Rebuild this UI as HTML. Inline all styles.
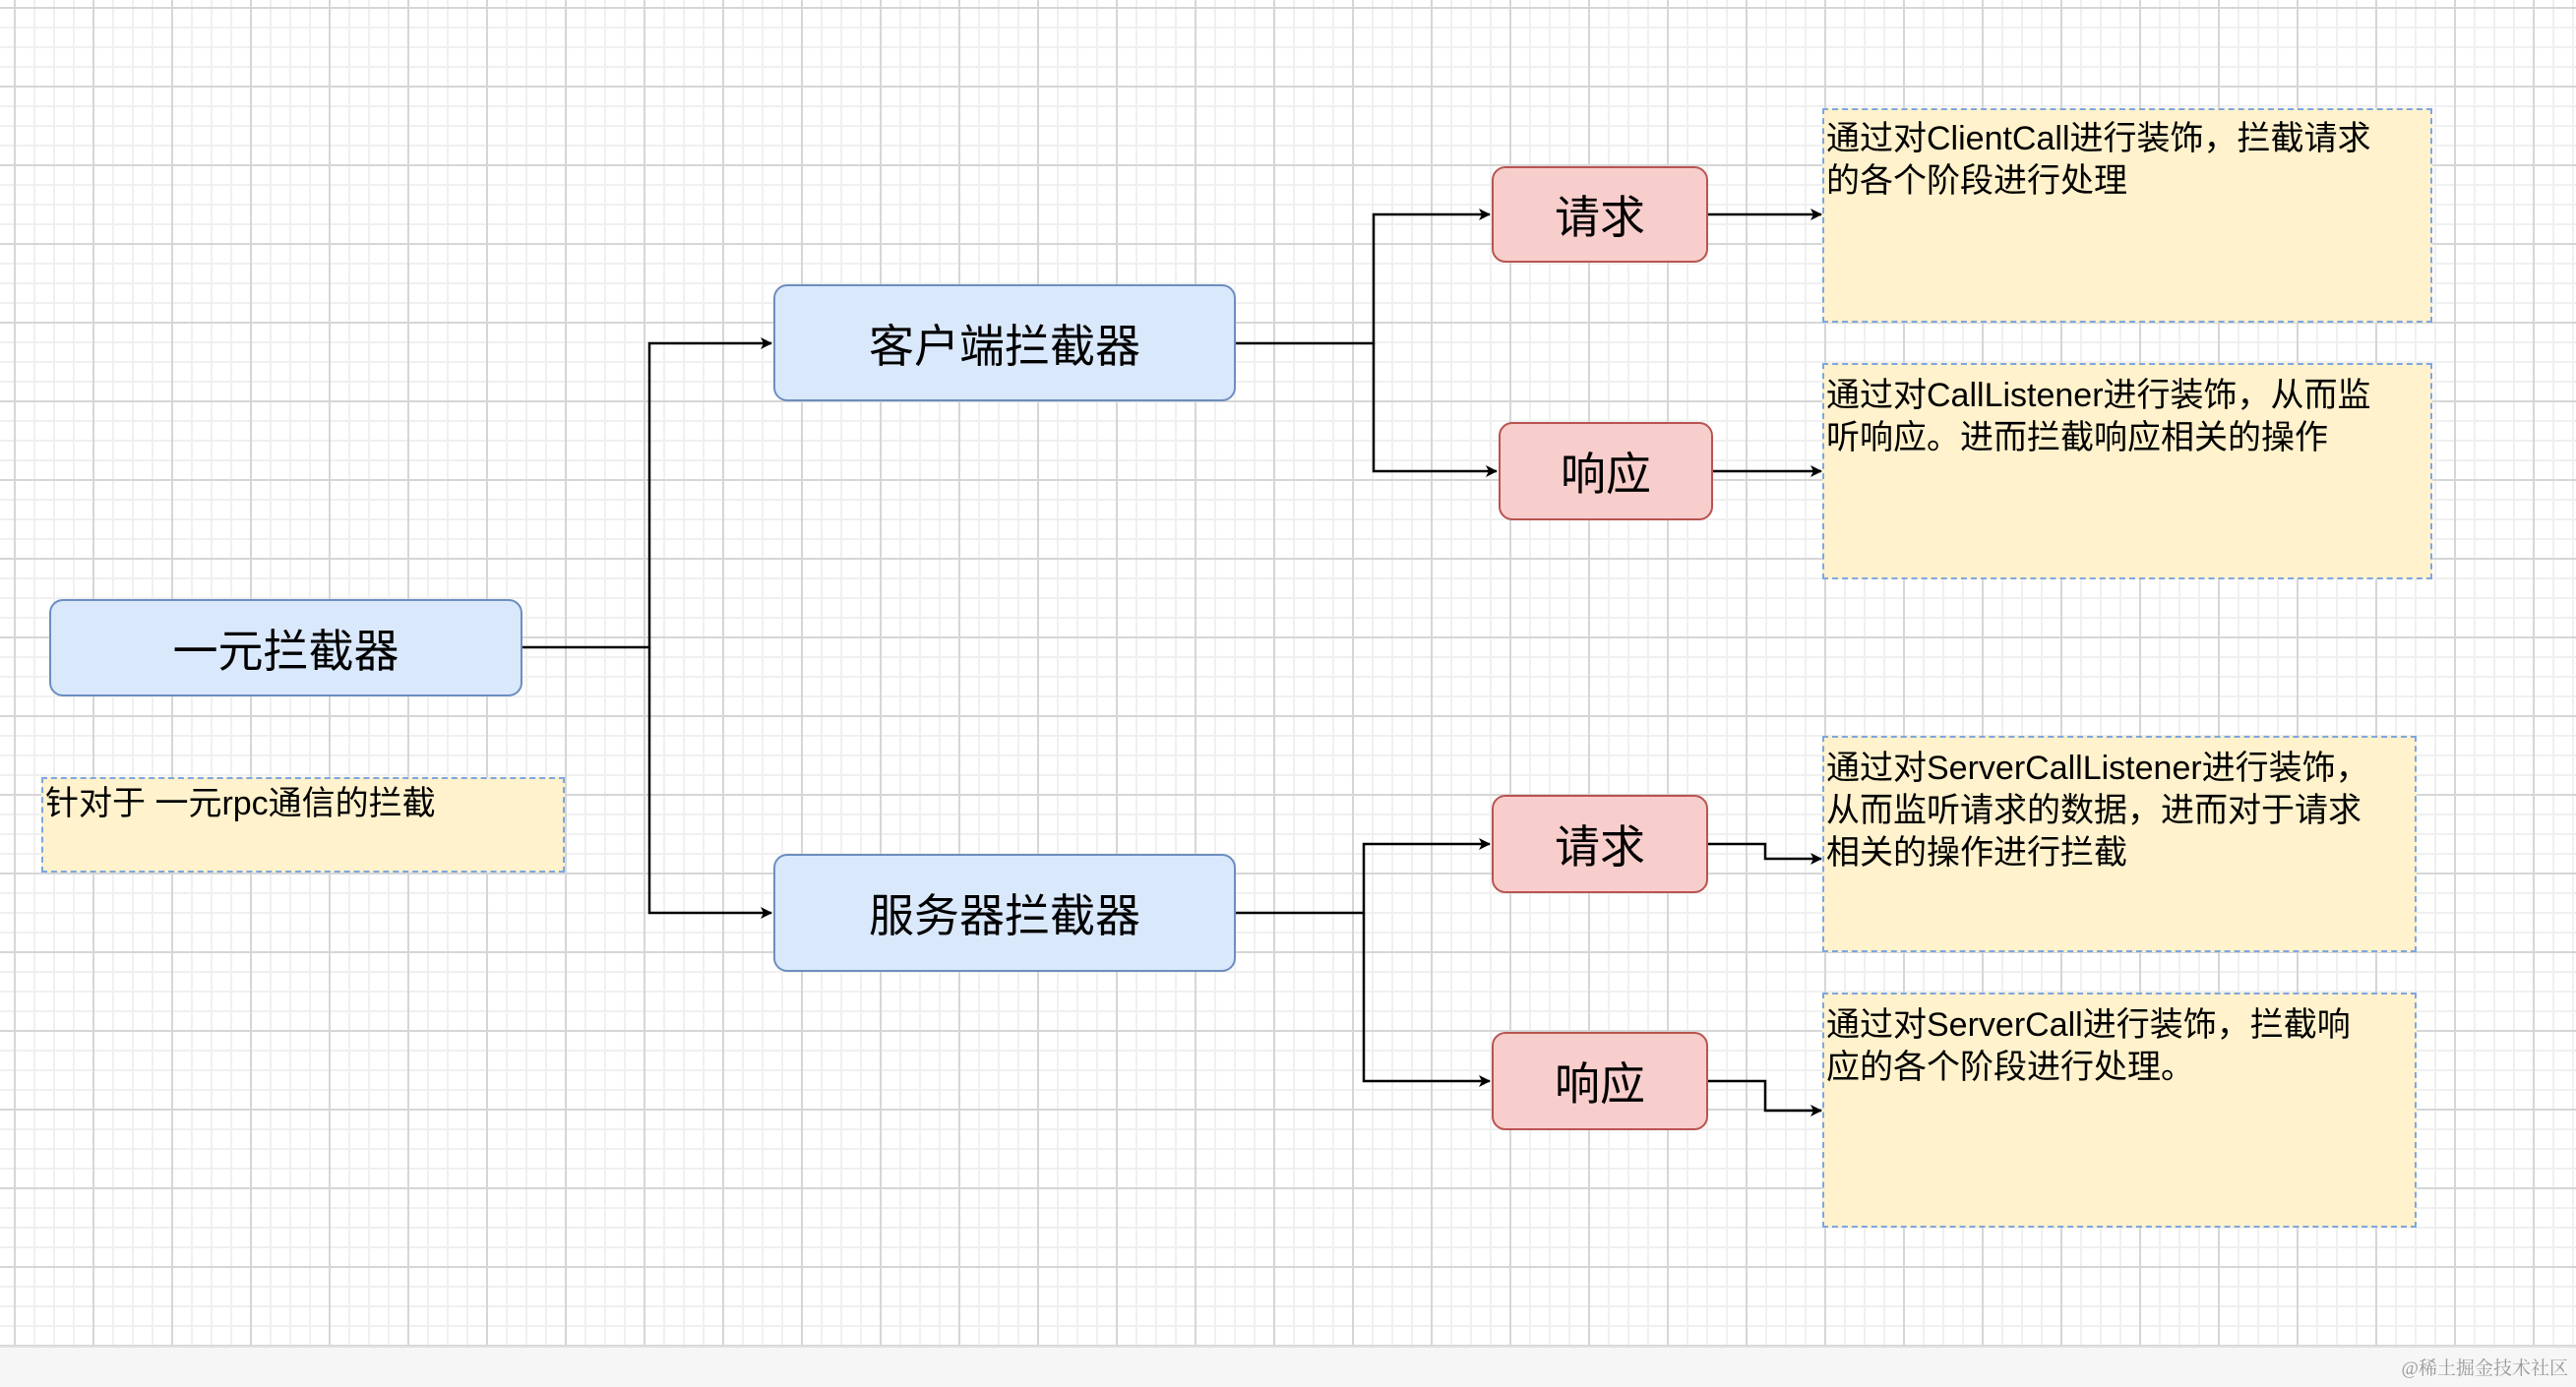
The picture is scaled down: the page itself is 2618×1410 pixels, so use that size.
<!DOCTYPE html>
<html><head><meta charset="utf-8"><style>
html,body{margin:0;padding:0}
body{width:2618px;height:1408px;position:relative;overflow:hidden;background:#fff;font-family:"Liberation Sans","Noto Sans CJK SC",sans-serif;
background-image:linear-gradient(#d6d6d6 2px,transparent 2px),linear-gradient(90deg,#d6d6d6 2px,transparent 2px),linear-gradient(#f0f0f0 2px,transparent 2px),linear-gradient(90deg,#f0f0f0 2px,transparent 2px);
background-size:80px 80px,80px 80px,20px 20px,20px 20px;background-position:0 7px,14px 0,0 7px,14px 0;}
.b{position:absolute;box-sizing:border-box;border-radius:14px;display:flex;align-items:center;justify-content:center;font-size:46px;color:#000}
.blue{background:#dae8fc;border:2px solid #6c8ebf}
.red{background:#f8cecc;border:2px solid #b85450}
.n{position:absolute;box-sizing:border-box;background:#fff2cc;border:2px dashed #7ea6e0;font-size:34px;line-height:43px;padding:4px 0 0 2px;color:#000}
.bar{position:absolute;left:0;top:1368px;width:2618px;height:40px;background:#f6f6f6;border-top:2px solid #e0e0e0}
.wm{position:absolute;right:8px;top:1376px;font-size:19px;color:#999;font-family:"Liberation Serif","Noto Serif CJK SC",serif}
svg{position:absolute;left:0;top:0}
</style></head><body>
<svg width="2618" height="1408">
<defs><marker id="a" markerWidth="12" markerHeight="12" refX="11" refY="6" orient="auto" markerUnits="userSpaceOnUse"><path d="M0,0 L12,6 L0,12 L3,6 Z" fill="#000"/></marker></defs>
<g stroke="#000" stroke-width="2.5" fill="none">
<path d="M531,658 H660 V349 H784" marker-end="url(#a)"/>
<path d="M660,658 V928 H784" marker-end="url(#a)"/>
<path d="M1256,349 H1396 V218 H1514" marker-end="url(#a)"/>
<path d="M1396,349 V479 H1521" marker-end="url(#a)"/>
<path d="M1256,928 H1386 V858 H1514" marker-end="url(#a)"/>
<path d="M1386,928 V1099 H1514" marker-end="url(#a)"/>
<path d="M1736,218 H1851" marker-end="url(#a)"/>
<path d="M1741,479 H1851" marker-end="url(#a)"/>
<path d="M1736,858 H1794 V873 H1851" marker-end="url(#a)"/>
<path d="M1736,1099 H1794 V1129 H1851" marker-end="url(#a)"/>
</g></svg>
<div class="b blue" style="left:50px;top:609px;width:481px;height:99px">一元拦截器</div>
<div class="n" style="left:42px;top:790px;width:532px;height:97px">针对于 一元rpc通信的拦截</div>
<div class="b blue" style="left:786px;top:289px;width:470px;height:119px">客户端拦截器</div>
<div class="b blue" style="left:786px;top:868px;width:470px;height:120px">服务器拦截器</div>
<div class="b red" style="left:1516px;top:169px;width:220px;height:98px">请求</div>
<div class="b red" style="left:1523px;top:429px;width:218px;height:100px">响应</div>
<div class="b red" style="left:1516px;top:808px;width:220px;height:100px">请求</div>
<div class="b red" style="left:1516px;top:1049px;width:220px;height:100px">响应</div>
<div class="n" style="left:1852px;top:110px;width:620px;height:218px;padding-top:8px">通过对ClientCall进行装饰，拦截请求<br>的各个阶段进行处理</div>
<div class="n" style="left:1852px;top:369px;width:620px;height:220px;padding-top:10px">通过对CallListener进行装饰，从而监<br>听响应。进而拦截响应相关的操作</div>
<div class="n" style="left:1852px;top:748px;width:604px;height:220px;padding-top:10px">通过对ServerCallListener进行装饰，<br>从而监听请求的数据，进而对于请求<br>相关的操作进行拦截</div>
<div class="n" style="left:1852px;top:1009px;width:604px;height:239px;padding-top:10px">通过对ServerCall进行装饰，拦截响<br>应的各个阶段进行处理。</div>
<div class="bar"></div>
<div class="wm">@稀土掘金技术社区</div>
</body></html>
